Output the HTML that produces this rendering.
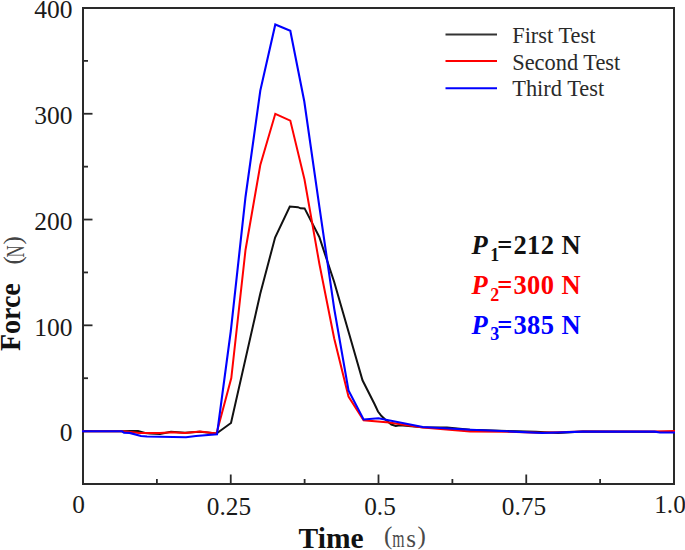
<!DOCTYPE html>
<html><head><meta charset="utf-8"><style>
html,body{margin:0;padding:0;background:#fff;}
body{width:685px;height:550px;overflow:hidden;position:relative;}
svg{position:absolute;left:0;top:0;}
text{font-family:"Liberation Serif",serif;}
</style></head><body>
<svg width="685" height="550" viewBox="0 0 685 550">

<rect x="83" y="8" width="591" height="476" fill="none" stroke="#2a2a2a" stroke-width="2"/>
<g stroke="#2a2a2a" stroke-width="1.8">
<line x1="156.88" y1="484" x2="156.88" y2="479"/><line x1="230.75" y1="484" x2="230.75" y2="474.5"/><line x1="304.62" y1="484" x2="304.62" y2="479"/><line x1="378.50" y1="484" x2="378.50" y2="474.5"/><line x1="452.38" y1="484" x2="452.38" y2="479"/><line x1="526.25" y1="484" x2="526.25" y2="474.5"/><line x1="600.12" y1="484" x2="600.12" y2="479"/><line x1="83" y1="431.10" x2="92.5" y2="431.10"/><line x1="83" y1="378.21" x2="88" y2="378.21"/><line x1="83" y1="325.32" x2="92.5" y2="325.32"/><line x1="83" y1="272.43" x2="88" y2="272.43"/><line x1="83" y1="219.54" x2="92.5" y2="219.54"/><line x1="83" y1="166.65" x2="88" y2="166.65"/><line x1="83" y1="113.76" x2="92.5" y2="113.76"/><line x1="83" y1="60.87" x2="88" y2="60.87"/>
</g>
<g fill="none" stroke-linejoin="miter" stroke-linecap="butt">
<polyline points="82.0,431.3 122.0,431.3 130.0,430.9 138.0,431.0 145.0,433.0 150.0,433.5 160.0,434.0 171.0,431.8 185.0,432.8 200.0,431.8 216.5,433.5 231.0,423.0 260.3,293.5 275.1,237.5 289.8,206.5 298.0,207.2 300.5,208.3 304.6,208.4 319.3,237.0 334.2,282.0 348.9,333.0 362.5,380.3 374.5,404.0 378.0,411.5 381.5,416.0 385.0,419.2 391.4,424.5 395.8,426.0 400.0,425.2 422.8,427.3 447.0,427.6 470.0,429.7 507.0,431.0 536.0,431.8 558.0,433.0 583.0,431.6 675.0,432.0" stroke="#111" stroke-width="2"/>
<polyline points="82.0,431.3 122.0,431.3 131.0,432.0 139.0,433.0 160.0,433.1 172.0,432.2 185.0,433.0 200.0,431.5 216.5,433.5 231.3,378.0 245.5,250.0 260.3,165.0 275.3,113.8 290.3,120.6 304.5,179.5 319.4,264.0 334.2,338.5 348.5,396.5 363.6,420.3 389.2,422.6 403.8,424.8 422.8,427.5 470.0,431.5 507.0,431.8 540.0,432.8 583.0,431.6 655.0,431.6 675.0,431.0" stroke="#ff0000" stroke-width="2"/>
<polyline points="82.0,431.3 122.0,431.3 124.0,432.7 129.5,432.9 141.0,436.0 147.0,436.5 186.0,437.2 196.0,436.0 217.0,434.3 230.8,331.0 245.5,197.0 260.3,90.6 275.3,24.5 290.3,30.8 304.3,101.5 319.4,206.8 334.2,308.6 348.5,390.5 363.6,419.5 378.5,418.2 422.8,427.0 470.7,429.7 507.4,431.3 542.2,433.0 582.8,431.6 654.6,431.6 660.0,432.5 675.0,432.5" stroke="#0000ff" stroke-width="2.1"/>
</g>
<g font-size="25.5" fill="#1a1a1a" text-anchor="end">
<text x="72.6" y="18">400</text>
<text x="72.6" y="124">300</text>
<text x="72.6" y="229.8">200</text>
<text x="72.6" y="335.6">100</text>
<text x="72.6" y="441.3">0</text>
</g>
<g font-size="25.3" fill="#1a1a1a" text-anchor="middle">
<text x="78.6" y="512.5">0</text>
<text x="229" y="514.5">0.25</text>
<text x="380" y="514.5">0.5</text>
<text x="524" y="514.5">0.75</text>
<text x="670" y="512.6">1.0</text>
</g>
<text transform="translate(298.6,548) scale(1,1.03)" font-size="29.5" font-weight="bold" fill="#111">Time</text>
<g fill="#4a4a4a">
<text x="384" y="544.3" font-size="25">(</text>
<text font-size="25.5" transform="translate(392.2,546.8) scale(0.62,1.02)">m</text>
<text x="406.2" y="546.8" font-size="25">s</text>
<text x="417.5" y="544.3" font-size="25">)</text>
</g>
<g transform="translate(20.3,351) rotate(-90) scale(0.98,1)">
<text x="0" y="0" font-size="28.5" font-weight="bold" fill="#111">Force</text>
</g>
<g transform="translate(24,265) rotate(-90)" fill="#444">
<text x="0.6" y="-2.6" font-size="25">(</text>
<text x="0" y="0" font-size="25.5" transform="translate(7.6,0) scale(0.66,1)">N</text>
<text x="20.6" y="-2.6" font-size="25">)</text>
</g>
<g stroke-width="2">
<line x1="445.5" y1="34.4" x2="497" y2="34.4" stroke="#333"/>
<line x1="445.5" y1="61" x2="497" y2="61" stroke="#ff0000"/>
<line x1="445.5" y1="88.3" x2="497" y2="88.3" stroke="#0000ff"/>
</g>
<g font-size="22.4" fill="#2a2a2a">
<text transform="translate(512.2,42.6) scale(1,1.07)">First Test</text>
<text transform="translate(512.2,69.5) scale(1,1.07)">Second Test</text>
<text transform="translate(512.2,96.3) scale(1,1.07)">Third Test</text>
</g>
<g font-size="26.5" font-weight="bold">
<text y="254" fill="#111"><tspan x="471.5" font-style="italic">P</tspan><tspan x="490.3" font-size="18" dy="6.8">1</tspan><tspan x="497.3" dy="-6.8">=</tspan><tspan x="513.4" letter-spacing="0.4">212</tspan><tspan x="561.5">N</tspan></text>
<text y="294" fill="#ff0000"><tspan x="471.5" font-style="italic">P</tspan><tspan x="490.3" font-size="18" dy="6.8">2</tspan><tspan x="497.3" dy="-6.8">=</tspan><tspan x="513.4" letter-spacing="0.4">300</tspan><tspan x="561.5">N</tspan></text>
<text y="333.5" fill="#0000ff"><tspan x="471.5" font-style="italic">P</tspan><tspan x="490.3" font-size="18" dy="6.8">3</tspan><tspan x="497.3" dy="-6.8">=</tspan><tspan x="513.4" letter-spacing="0.4">385</tspan><tspan x="561.5">N</tspan></text>
</g>
</svg>
</body></html>
